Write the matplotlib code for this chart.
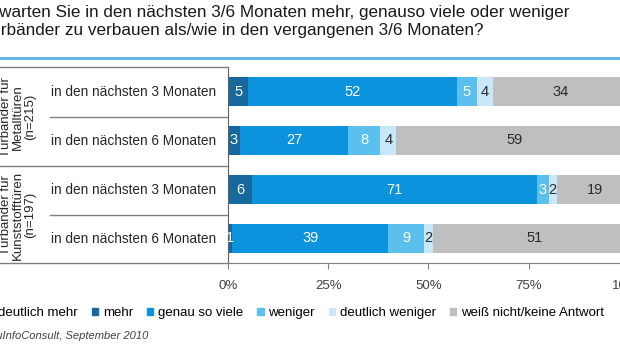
import matplotlib.pyplot as plt
from matplotlib.lines import Line2D
import numpy as np

plt.rcParams['font.family'] = ['Liberation Sans', 'DejaVu Sans']

# data
rows = ['in den nächsten 3 Monaten', 'in den nächsten 6 Monaten',
        'in den nächsten 3 Monaten', 'in den nächsten 6 Monaten']
groups = ['Türbänder für\nMetalltüren\n(n=215)', 'Türbänder für\nKunststofftüren\n(n=197)']
categories = ['deutlich mehr', 'mehr', 'genau so viele', 'weniger',
              'deutlich weniger', 'weiß nicht/keine Antwort']
deutlich_mehr = [0, 0, 0, 0]
mehr = [5, 3, 6, 1]
genau_so_viele = [52, 27, 71, 39]
weniger = [5, 8, 3, 9]
deutlich_weniger = [4, 4, 2, 2]
weiss_nicht = [34, 59, 19, 51]
series = [deutlich_mehr, mehr, genau_so_viele, weniger, deutlich_weniger, weiss_nicht]
colors = ['#0b3f63', '#17689c', '#0b94dd', '#5cc0ee', '#c9e8f7', '#bfbfbf']
text_colors = ['white', 'white', 'white', 'white', '#2b2b2b', '#2b2b2b']
ticks = [0, 25, 50, 75, 100]

W, H = 620, 350
fig = plt.figure(figsize=(6.2, 3.5), dpi=100)


def fx(x):
    return x / W


def fy(y):
    return 1 - y / H


# axes placed in pixel coordinates (right edge falls off the picture)
ax = fig.add_axes([fx(228), fy(263), (629 - 228) / W, (263 - 67) / H])

y = np.arange(len(rows))
left = np.zeros(len(rows))
for vals, col, tc in zip(series, colors, text_colors):
    vals = np.array(vals, dtype=float)
    ax.barh(y, vals, left=left, height=0.61, color=col, edgecolor='none')
    for i, v in enumerate(vals):
        if v > 0:
            ax.text(left[i] + v / 2, y[i], f'{int(v)}', ha='center', va='center',
                    color=tc, fontsize=10.5)
    left += vals

ax.set_xlim(0, 100)
ax.set_ylim(3.5, -0.5)
ax.set_yticks([])
ax.set_xticks(ticks)
ax.set_xticklabels([f'{t}%' for t in ticks], fontsize=9.5, color='#404040')
ax.tick_params(axis='x', length=4, color='#808080', pad=8)
for s in ['top', 'right']:
    ax.spines[s].set_visible(False)
ax.spines['left'].set_color('#606060')
ax.spines['bottom'].set_color('#808080')

# table lines on the left
line_col = '#808080'
fig.add_artist(Line2D([fx(0), fx(228)], [fy(67), fy(67)], color=line_col, lw=1))
fig.add_artist(Line2D([fx(0), fx(228)], [fy(166), fy(166)], color=line_col, lw=1))
fig.add_artist(Line2D([fx(0), fx(228)], [fy(263), fy(263)], color=line_col, lw=1))
fig.add_artist(Line2D([fx(50), fx(228)], [fy(117), fy(117)], color=line_col, lw=1))
fig.add_artist(Line2D([fx(50), fx(228)], [fy(215), fy(215)], color=line_col, lw=1))

# row labels
for i, r in enumerate(rows):
    fig.text(fx(134), fy(92 + i * 49), r, ha='center', va='center', fontsize=9.8,
             color='#262626')

# group labels (partly cut off on the left)
for g, yc in zip(groups, [117, 215]):
    fig.text(fx(18), fy(yc), g, rotation=90, ha='center', va='center',
             multialignment='center', fontsize=9.5, color='#262626', linespacing=1.0)

# title (left part cut off)
fig.text(fx(-18), fy(13), 'Erwarten Sie in den nächsten 3/6 Monaten mehr, genauso viele oder weniger',
         ha='left', va='center', fontsize=12.3, color='#1a1a1a')
fig.text(fx(-19), fy(31), 'Türbänder zu verbauen als/wie in den vergangenen 3/6 Monaten?',
         ha='left', va='center', fontsize=12.3, color='#1a1a1a')
fig.add_artist(Line2D([0, 1], [fy(58), fy(58)], color='#5ab6e6', lw=2))

# legend
handles = [plt.Rectangle((0, 0), 1, 1, color=c) for c in colors]
fig.legend(handles, categories, loc='center left', bbox_to_anchor=(fx(-13), fy(313)),
           ncol=6, frameon=False, fontsize=9.5, handlelength=0.5, handleheight=0.5,
           handletextpad=0.35, columnspacing=1.05, borderaxespad=0, borderpad=0)

# source
fig.text(fx(-56), fy(336), 'Quelle: BauInfoConsult, September 2010', ha='left', va='center',
         fontsize=8, style='italic', color='#404040')

fig.savefig('out.png', dpi=100)
